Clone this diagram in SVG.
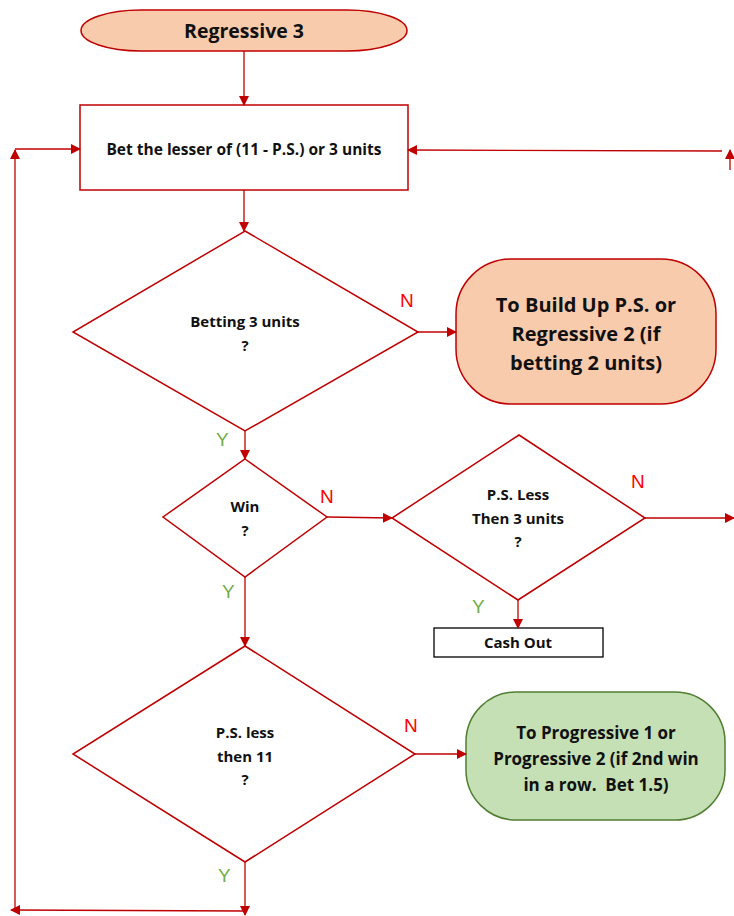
<svg xmlns="http://www.w3.org/2000/svg" width="734" height="916" viewBox="0 0 734 916">
<style>
.t{font-family:"Open Sans","Liberation Sans",sans-serif;font-weight:bold;fill:#111;text-anchor:middle;white-space:pre}
.ln{stroke:#c00000;stroke-width:1.3;fill:none}
.sh{stroke:#c00000;stroke-width:1.5;fill:#fff}
.n{font-family:"Liberation Sans",sans-serif;fill:#ff0000;font-size:19px}
.y{font-family:"Liberation Sans",sans-serif;fill:#70ad47;font-size:19px}
</style>
<defs>
<marker id="a" viewBox="0 0 10 10" refX="9" refY="5" markerWidth="10" markerHeight="10" markerUnits="userSpaceOnUse" orient="auto">
<path d="M0,0 L10,5 L0,10 Z" fill="#c00000"/>
</marker>
</defs>
<g id="start">
<rect x="81" y="10" width="326" height="41" rx="60" ry="20.5" fill="#f8cbad" stroke="#c00000" stroke-width="1.5"/>
<text class="t" x="244" y="38" font-size="19.5">Regressive 3</text>
</g>
<g id="bet">
<rect x="80" y="105" width="328" height="85" class="sh"/>
<text class="t" x="244" y="155" font-size="15.5">Bet the lesser of (11 - P.S.) or 3 units</text>
</g>
<g id="d1">
<path d="M245,231 L418,332 L245,431 L73,332 Z" class="sh"/>
<text class="t" x="245" y="327" font-size="15">Betting 3 units</text>
<text class="t" x="245" y="351" font-size="15">?</text>
</g>
<g id="buildup">
<rect x="456" y="259" width="260" height="145" rx="55" ry="55" fill="#f8cbad" stroke="#c00000" stroke-width="1.5"/>
<text class="t" x="586" y="312" font-size="20">To Build Up P.S. or</text>
<text class="t" x="586" y="341" font-size="20">Regressive 2 (if</text>
<text class="t" x="586" y="370" font-size="20">betting 2 units)</text>
</g>
<g id="win">
<path d="M245,459 L327,517 L245,577 L163,517 Z" class="sh"/>
<text class="t" x="245" y="512" font-size="15">Win</text>
<text class="t" x="245" y="536" font-size="15">?</text>
</g>
<g id="d3">
<path d="M519,435 L645,518 L518,600 L392,518 Z" class="sh"/>
<text class="t" x="518" y="500" font-size="15">P.S. Less</text>
<text class="t" x="518" y="524" font-size="15">Then 3 units</text>
<text class="t" x="518" y="547" font-size="15">?</text>
</g>
<g id="cashout">
<rect x="434" y="628" width="169" height="29" fill="#fff" stroke="#000" stroke-width="1.3"/>
<text class="t" x="518" y="648" font-size="15">Cash Out</text>
</g>
<g id="d4">
<path d="M245,646 L415,754 L245,862 L73,754 Z" class="sh"/>
<text class="t" x="245" y="738" font-size="15">P.S. less</text>
<text class="t" x="245" y="762" font-size="15">then 11</text>
<text class="t" x="245" y="785" font-size="15">?</text>
</g>
<g id="prog">
<rect x="466" y="692" width="259" height="128" rx="50" ry="50" fill="#c5e0b4" stroke="#507e32" stroke-width="1.5"/>
<text class="t" x="596" y="739" font-size="17">To Progressive 1 or</text>
<text class="t" x="596" y="765" font-size="17">Progressive 2 (if 2nd win</text>
<text class="t" x="596" y="791" font-size="17">in a row.  Bet 1.5)</text>
</g>
<g id="connectors">
<line x1="244" y1="51" x2="244" y2="105" class="ln" marker-end="url(#a)"/>
<line x1="15" y1="149" x2="80" y2="149" class="ln" marker-end="url(#a)"/>
<line x1="15" y1="911" x2="15" y2="150" class="ln" marker-end="url(#a)"/>
<line x1="722" y1="151" x2="408" y2="150" class="ln" marker-end="url(#a)"/>
<line x1="730" y1="170" x2="730" y2="150" class="ln" marker-end="url(#a)"/>
<line x1="244" y1="190" x2="244" y2="231" class="ln" marker-end="url(#a)"/>
<line x1="418" y1="332" x2="456" y2="332" class="ln" marker-end="url(#a)"/>
<line x1="245" y1="431" x2="245" y2="459" class="ln" marker-end="url(#a)"/>
<line x1="327" y1="517" x2="392" y2="518" class="ln" marker-end="url(#a)"/>
<line x1="645" y1="518" x2="734" y2="518" class="ln" marker-end="url(#a)"/>
<line x1="518" y1="600" x2="518" y2="628" class="ln" marker-end="url(#a)"/>
<line x1="245" y1="577" x2="245" y2="646" class="ln" marker-end="url(#a)"/>
<line x1="415" y1="754" x2="466" y2="754" class="ln" marker-end="url(#a)"/>
<line x1="245" y1="862" x2="245" y2="915" class="ln" marker-end="url(#a)"/>
<line x1="245" y1="911" x2="11" y2="910" class="ln" marker-end="url(#a)"/>
<text class="n" x="400" y="307">N</text>
<text class="y" x="216" y="446">Y</text>
<text class="n" x="320" y="503">N</text>
<text class="n" x="631" y="488">N</text>
<text class="y" x="222" y="598">Y</text>
<text class="y" x="472" y="613">Y</text>
<text class="n" x="404" y="732">N</text>
<text class="y" x="218" y="882">Y</text>
</g>
</svg>
